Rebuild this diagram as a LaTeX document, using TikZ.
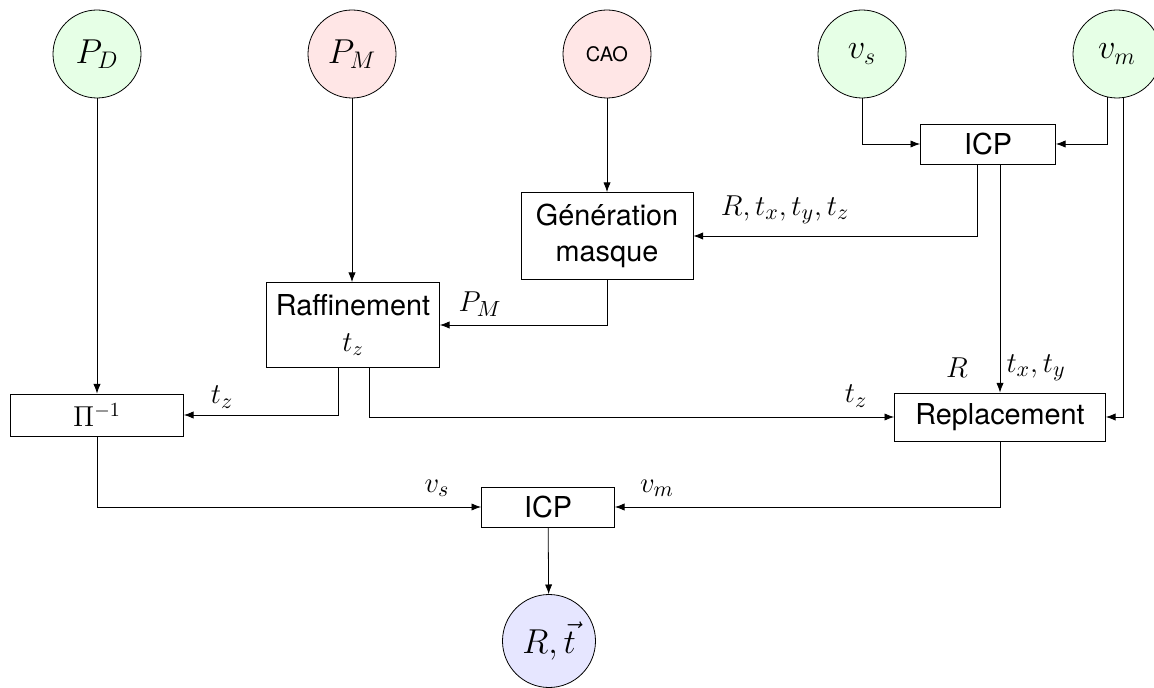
\documentclass[tikz,border=0pt]{standalone}
\usepackage{fontspec}
\setsansfont{TeX Gyre Heros}
\usetikzlibrary{arrows.meta,positioning,calc}
\definecolor{Vert}{HTML}{E6FFE6}
\definecolor{Rose}{HTML}{FFE6E6}
\definecolor{Bleu}{HTML}{E6E6FF}

\begin{document}
\begin{tikzpicture}[x=0.5pt,y=-0.5pt,>={Latex},
  entree/.style={circle,draw,minimum size=44pt,inner sep=0pt,font=\fontsize{16.5}{19}\selectfont},
  bloc/.style={draw,font=\Large\sffamily,align=center,inner sep=0pt},
  lbl/.style={font=\fontsize{15.5}{18}\selectfont}]
  \useasboundingbox (0,0) rectangle (1154,688);
  % entrees
  \node[entree,fill=Vert] (pd) at (97,54) {$P_D$};
  \node[entree,fill=Rose] (pm) at (352,54) {$P_M$};
  \node[entree,fill=Rose,font=\normalsize\sffamily] (cao) at (607,54) {CAO};
  \node[entree,fill=Vert] (vs) at (862,54) {$v_s$};
  \node[entree,fill=Vert] (vm) at (1117,54) {$v_m$};
  % blocs
  \node[bloc,minimum width=67.5pt,minimum height=20pt] (icpA) at (988,144) {ICP};
  \node[bloc,minimum width=86pt,minimum height=43.5pt] (gen) at (607,236) {G\'en\'eration\\masque};
  \node[bloc,minimum width=86.5pt,minimum height=42.5pt] (raf) at (353,325) {Raffinement\\$t_z$};
  \node[bloc,minimum width=86.5pt,minimum height=21pt] (pinv) at (97,415) {$\Pi^{-1}$};
  \node[bloc,minimum width=105.5pt,minimum height=24pt] (repl) at (1000,417) {Replacement};
  \node[bloc,minimum width=66.5pt,minimum height=20pt] (icpB) at (548,507) {ICP};
  \node[entree,fill=Bleu,minimum size=46.5pt] (res) at (549,641) {$R,\vec{t}$};
  % liaisons
  \draw[->] (pd) -- (pinv);
  \draw[->] (pm) -- (pm |- raf.north);
  \draw[->] (cao) -- (gen);
  \draw[->] (vs) |- (icpA);
  \draw[->] (vm.-102) |- (icpA);
  \draw[->] (vm.-82) |- (repl.east);
  \draw[->] ([xshift=-5.5pt]icpA.south) |- (gen.east);
  \draw[->] (repl.north |- icpA.south) -- (repl.north);
  \draw[->] (gen.south) |- (raf.east);
  \draw[->] ([xshift=-7.5pt]raf.south) |- (pinv.east);
  \draw[->] ([xshift=8pt]raf.south) |- (repl.west);
  \draw[->] (pinv.south) |- (icpB.west);
  \draw[->] (repl.south) |- (icpB.east);
  \draw[->] (icpB) -- (res);
  % etiquettes
  \node[lbl] (lrt) at (785,210) {$R,t_x,t_y,t_z$};
  \node[lbl] (lpm) at (480,304) {$P_M$};
  \node[lbl] (ltza) at (222,397) {$t_z$};
  \node[lbl] (ltzb) at (856,396) {$t_z$};
  \node[lbl] (lr) at (957,368) {$R$};
  \node[lbl] (ltxy) at (1036,368) {$t_x,t_y$};
  \node[lbl] (lvs) at (437,488) {$v_s$};
  \node[lbl] (lvm) at (657,488) {$v_m$};
\end{tikzpicture}
\end{document}
